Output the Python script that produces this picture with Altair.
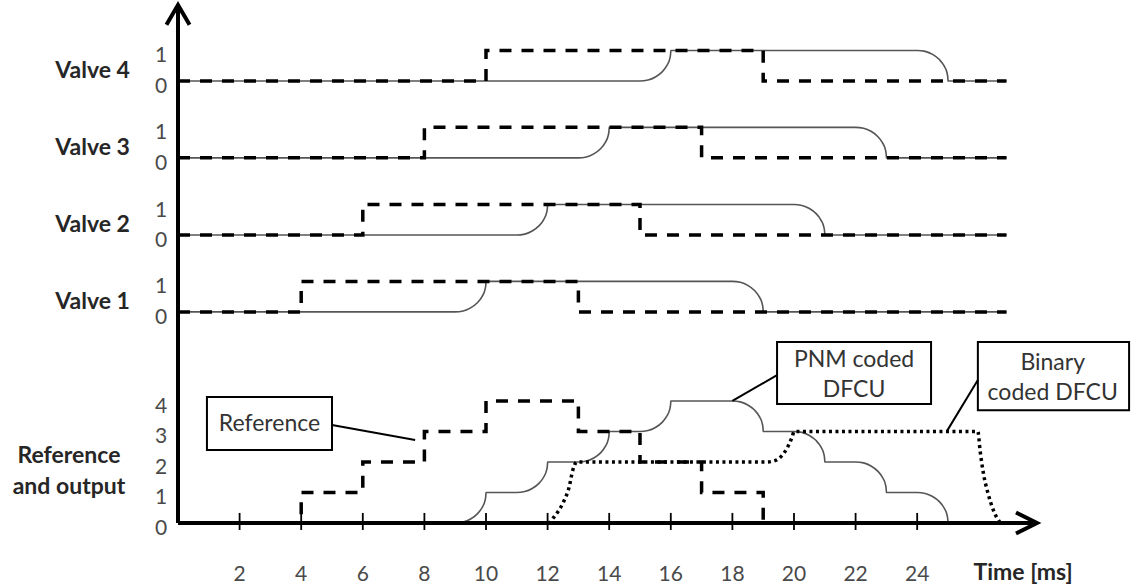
import altair as alt
import pandas as pd

# ---------------- data ----------------
TIME_TICKS = [2, 4, 6, 8, 10, 12, 14, 16, 18, 20, 22, 24]
T_END = 26.9

VALVE_NAMES = ["Valve 1", "Valve 2", "Valve 3", "Valve 4"]
VALVE_CMD_ON = [4, 6, 8, 10]       # command switches to 1
VALVE_CMD_OFF = [13, 15, 17, 19]   # command switches to 0
VALVE_OPENED = [10, 12, 14, 16]    # actual valve reaches 1
VALVE_CLOSED = [19, 21, 23, 25]    # actual valve reaches 0

# shape of one rounded transition (fraction of 1 ms and of one level)
RISE_DX = [0.0, 0.26, 0.50, 0.71, 0.87, 0.97, 0.995, 1.0]
RISE_DY = [0.0, 0.03, 0.13, 0.29, 0.50, 0.74, 0.90, 1.0]
FALL_DX = [0.0, 0.26, 0.50, 0.71, 0.87, 0.97, 0.995, 1.0]
FALL_DY = [1.0, 0.97, 0.87, 0.71, 0.50, 0.26, 0.10, 0.0]

REF_T = [0, 4, 6, 8, 10, 13, 15, 17, 19, T_END]
REF_LEVEL = [0, 1, 2, 3, 4, 3, 2, 1, 0, 0]

PNM_RISE_DONE = [10, 12, 14, 16]
PNM_FALL_DONE = [19, 21, 23, 25]

BIN_T = [0, 12.05, 12.18, 12.5, 12.7, 12.82, 12.95, 19.1, 19.4, 19.6, 19.8,
         19.95, 20.0, 25.97, 26.04, 26.15, 26.3, 26.47, 26.7]
BIN_LEVEL = [0, 0, 0.16, 0.66, 1.18, 1.74, 2.0, 2.0, 2.05, 2.2, 2.5,
             2.85, 3.0, 3.0, 2.39, 1.63, 0.97, 0.43, 0.0]

BOTTOM_LEVELS = [0, 1, 2, 3, 4]
VALVE_LEVELS = [0, 1]

# ---------------- layout ----------------
VALVE_BASE = [6.92, 9.44, 11.97, 14.49]
X_MAX = 27.89
Y_MAX = 16.98
FONT = "Lato"

# ---------------- build tables ----------------
cmd_rows, resp_rows = [], []
for name, base, on, off, opened, closed in zip(VALVE_NAMES, VALVE_BASE, VALVE_CMD_ON,
                                                VALVE_CMD_OFF, VALVE_OPENED, VALVE_CLOSED):
    for t, v in [(0, 0), (on, 1), (off, 0), (T_END, 0)]:
        cmd_rows.append({"s": name, "x": t, "y": base + v})
    resp_rows.append({"s": name, "x": 0, "y": base})
    for dx, dy in zip(RISE_DX, RISE_DY):
        resp_rows.append({"s": name, "x": opened - 1 + dx, "y": base + dy})
    for dx, dy in zip(FALL_DX, FALL_DY):
        resp_rows.append({"s": name, "x": closed - 1 + dx, "y": base + dy})
    resp_rows.append({"s": name, "x": T_END, "y": base})

ref_df = pd.DataFrame({"x": REF_T, "y": REF_LEVEL})

pnm_rows = [{"x": 0, "y": 0}]
for i, done in enumerate(PNM_RISE_DONE):
    for dx, dy in zip(RISE_DX, RISE_DY):
        pnm_rows.append({"x": done - 1 + dx, "y": i + dy})
for i, done in enumerate(PNM_FALL_DONE):
    lvl = len(PNM_FALL_DONE) - 1 - i
    for dx, dy in zip(FALL_DX, FALL_DY):
        pnm_rows.append({"x": done - 1 + dx, "y": lvl + dy})
pnm_rows.append({"x": T_END, "y": 0})

bin_df = pd.DataFrame({"x": BIN_T, "y": BIN_LEVEL})

cmd_df = pd.DataFrame(cmd_rows)
resp_df = pd.DataFrame(resp_rows)
pnm_df = pd.DataFrame(pnm_rows)


def X(f="x"):
    return alt.X(f"{f}:Q", scale=alt.Scale(domain=[0, X_MAX], nice=False, zero=False), axis=None)


def Y(f="y"):
    return alt.Y(f"{f}:Q", scale=alt.Scale(domain=[0, Y_MAX], nice=False, zero=False), axis=None)


DASH = [12, 10]

resp = alt.Chart(resp_df).mark_line(interpolate="monotone", color="#555555", strokeWidth=1.6).encode(
    x=X(), y=Y(), detail="s:N")
cmd = alt.Chart(cmd_df).mark_line(interpolate="step-after", color="black", strokeWidth=3.5,
                                  strokeDash=DASH).encode(x=X(), y=Y(), detail="s:N")
pnm = alt.Chart(pnm_df).mark_line(interpolate="monotone", color="#555555", strokeWidth=1.6).encode(
    x=X(), y=Y())
ref = alt.Chart(ref_df).mark_line(interpolate="step-after", color="black", strokeWidth=3.5,
                                  strokeDash=DASH).encode(x=X(), y=Y())
binl = alt.Chart(bin_df).mark_line(interpolate="monotone", color="black", strokeWidth=3.5,
                                   strokeDash=[3, 3.5]).encode(x=X(), y=Y())

# annotation boxes, leaders and texts
box_df = pd.DataFrame({
    "x": [0.94, 19.45, 25.97], "x2": [5.0, 24.45, 30.88],
    "y": [2.39, 3.90, 3.70], "y2": [4.13, 5.93, 5.93]})
boxes = alt.Chart(box_df).mark_rect(fill="white", stroke="black", strokeWidth=2).encode(
    x=X(), x2="x2:Q", y=Y(), y2="y2:Q")

lead_df = pd.DataFrame({
    "x": [5.0, 19.45, 25.97], "x2": [7.7, 18.0, 24.97],
    "y": [3.21, 4.85, 4.69], "y2": [2.72, 4.0, 3.02]})
leaders = alt.Chart(lead_df).mark_rule(color="black", strokeWidth=2).encode(
    x=X(), x2="x2:Q", y=Y(), y2="y2:Q")

ann_df = pd.DataFrame({
    "x": [2.97, 21.95, 21.95, 28.4, 28.4],
    "y": [3.25, 5.34, 4.36, 5.25, 4.26],
    "t": ["Reference", "PNM coded", "DFCU", "Binary", "coded DFCU"]})
ann = alt.Chart(ann_df).mark_text(font=FONT, fontSize=23, color="#333333", align="center",
                                  baseline="middle").encode(x=X(), y=Y(), text="t:N")

# left row labels
row_df = pd.DataFrame({"x": [-1.56] * 4, "y": [b + 0.33 for b in VALVE_BASE], "t": VALVE_NAMES})
rows = alt.Chart(row_df).mark_text(font=FONT, fontSize=23, fontWeight="bold", color="#262626",
                                   align="right", baseline="middle").encode(x=X(), y=Y(), text="t:N")
out_df = pd.DataFrame({"x": [-3.54, -3.54], "y": [2.2, 1.18], "t": ["Reference", "and output"]})
outl = alt.Chart(out_df).mark_text(font=FONT, fontSize=23, fontWeight="bold", color="#262626",
                                   align="center", baseline="middle").encode(x=X(), y=Y(), text="t:N")

# y level labels
yl_rows = [{"x": -0.55, "y": lv, "t": str(lv)} for lv in BOTTOM_LEVELS]
for b in VALVE_BASE:
    yl_rows += [{"x": -0.55, "y": b + lv, "t": str(lv)} for lv in VALVE_LEVELS]
ylab = alt.Chart(pd.DataFrame(yl_rows)).mark_text(font=FONT, fontSize=21, color="#4a4a4a",
                                                   align="center", baseline="middle", dy=6).encode(
    x=X(), y=Y(), text="t:N")

# x tick labels, ticks and title
xt_df = pd.DataFrame({"x": TIME_TICKS, "y": [-1.7] * len(TIME_TICKS),
                      "y0": [-0.23] * len(TIME_TICKS), "y1": [0.33] * len(TIME_TICKS),
                      "t": [str(v) for v in TIME_TICKS]})
xlab = alt.Chart(xt_df).mark_text(font=FONT, fontSize=21, color="#4a4a4a", align="center",
                                  baseline="middle").encode(x=X(), y=Y(), text="t:N")
xticks = alt.Chart(xt_df).mark_rule(color="black", strokeWidth=1.8).encode(
    x=X(), y=Y("y0"), y2="y1:Q")
title_df = pd.DataFrame({"x": [27.44], "y": [-1.64], "t": ["Time [ms]"]})
xtitle = alt.Chart(title_df).mark_text(font=FONT, fontSize=23, fontWeight="bold", color="#262626",
                                       align="center", baseline="middle").encode(
    x=X(), y=Y(), text="t:N")

# axis lines with arrowheads
axis_df = pd.DataFrame({"x": [0, 0], "x2": [X_MAX - 0.05, 0], "y": [0, 0], "y2": [0, Y_MAX - 0.05]})
axes = alt.Chart(axis_df).mark_rule(color="black", strokeWidth=4).encode(
    x=X(), x2="x2:Q", y=Y(), y2="y2:Q")
xarrow = alt.Chart(pd.DataFrame({"x": [X_MAX], "y": [0]})).mark_point(
    shape="M -2.1 -1.05 L 0 0 L -2.1 1.05", size=400, filled=False, stroke="black",
    strokeWidth=4, opacity=1, strokeJoin="miter").encode(x=X(), y=Y())
yarrow = alt.Chart(pd.DataFrame({"x": [0], "y": [Y_MAX]})).mark_point(
    shape="M -1.05 1.8 L 0 0 L 1.05 1.8", size=484, filled=False, stroke="black",
    strokeWidth=4, opacity=1, strokeJoin="miter").encode(x=X(), y=Y())

chart = alt.layer(
    resp, pnm, cmd, ref, binl, boxes, leaders, ann, rows, outl, ylab, xlab, xticks, xtitle,
    axes, xarrow, yarrow
).properties(
    width=859, height=518,
    padding={"left": 178, "top": 5, "right": 99, "bottom": 64},
    autosize=alt.AutoSizeParams(type="none"),
    background="white",
).configure_view(strokeWidth=0)

chart.save("out.html", embed_options={"renderer": "svg", "actions": False})
